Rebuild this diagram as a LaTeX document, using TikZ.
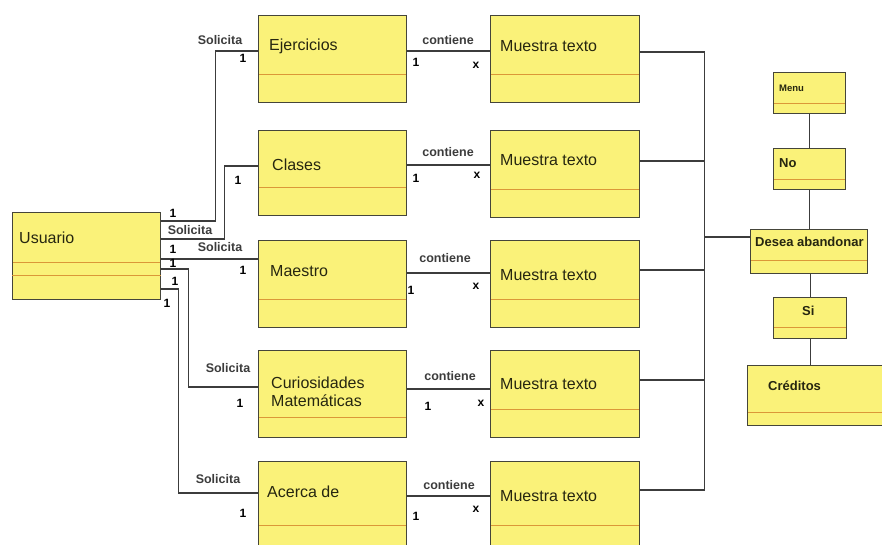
\documentclass[tikz,border=0pt]{standalone}
\usepackage{fontspec}
\setmainfont{Liberation Sans}
\usepackage{tikz}
\definecolor{amarillo}{HTML}{FAF279}
\definecolor{borde}{HTML}{45453A}
\definecolor{naranja}{HTML}{DB9838}
\definecolor{linea}{HTML}{3C3C3C}
\definecolor{texto}{HTML}{262610}
\tikzset{
  clase/.style={draw=borde, fill=amarillo, line width=1.3pt, anchor=north west,
    inner sep=0pt, minimum width=148pt, minimum height=87pt},
  comp/.style={path picture={\draw[naranja, line width=1pt]
    ([yshift=#1pt]path picture bounding box.south west) --
    ([yshift=#1pt]path picture bounding box.south east);}},
  conector/.style={draw=linea, line width=1.1pt},
  nombre/.style={text=texto, font=\fontsize{16}{18}\selectfont, inner sep=0pt, align=left},
  nombreb/.style={text=texto, font=\bfseries\fontsize{13}{15}\selectfont, inner sep=0pt},
  nom/.style n args={3}{label={[nombre, anchor=west, xshift=#1pt, yshift=-#2pt]north west:#3}},
  nomb/.style n args={3}{label={[nombreb, anchor=west, xshift=#1pt, yshift=-#2pt]north west:#3}},
  rol/.style={text=linea, font=\bfseries\fontsize{12.5}{14}\selectfont, inner sep=0pt},
  mult/.style={text=black, font=\bfseries\fontsize{12}{14}\selectfont, inner sep=0pt}
}

\begin{document}
\begin{tikzpicture}[x=1pt, y=-1pt]
  \fill[white] (0,0) rectangle (882,544);
  \useasboundingbox (0,0) rectangle (882,544);

  % usuario y sus opciones
  \node[clase, comp=37, nom={7}{26}{Usuario}] (usuario) at (12,212) {};
  \draw[naranja, line width=1pt] ([yshift=25pt]usuario.south west) -- ([yshift=25pt]usuario.south east);
  \node[clase, comp=28, nom={11}{31}{Ejercicios}] (ejercicios) at (258,15) {};
  \node[clase, minimum height=85pt, comp=28, nom={14}{35}{Clases}] (clases) at (258,130) {};
  \node[clase, comp=28, nom={12}{31}{Maestro}] (maestro) at (258,240) {};
  \node[clase, comp=20, nom={13}{42}{Curiosidades\\Matemáticas}] (curiosidades) at (258,350) {};
  \node[clase, comp=23, nom={9}{31}{Acerca de}] (acerca) at (258,461) {};

  \foreach \i/\t/\d/\c in {1/15/31/28, 2/130/30/28, 3/240/35/28, 4/350/34/28, 5/461/35/23}
    \node[clase, minimum width=149pt, comp=\c, nom={10}{\d}{Muestra texto}] (m\i) at (490,\t) {};

  % salida
  \node[clase, minimum width=72pt, minimum height=41pt, comp=10,
    label={[nombreb, font=\bfseries\fontsize{9.5}{11}\selectfont, anchor=west, xshift=6pt, yshift=-16pt]north west:Menu}] (menu) at (773,72) {};
  \node[clase, minimum width=72pt, minimum height=41pt, comp=10, nomb={6}{15}{No}] (no) at (773,148) {};
  \node[clase, minimum width=117pt, minimum height=44pt, comp=13, nomb={5}{13}{Desea abandonar}] (desea) at (750,229) {};
  \node[clase, minimum width=73pt, minimum height=41pt, comp=11, nomb={29}{14}{Si}] (si) at (773,297) {};
  \node[clase, minimum width=150pt, minimum height=60pt, comp=13, nomb={21}{21}{Créditos}] (creditos) at (747,365) {};

  % Solicita
  \draw[conector] ([yshift=-9pt]usuario.north east) -| ++(54,-170) -- ([yshift=-36pt]ejercicios.north west);
  \draw[conector] ([yshift=-27pt]usuario.north east) -| ++(63,-73) -- ([yshift=-36pt]clases.north west);
  \draw[conector] ([yshift=-47pt]usuario.north east) -- ([yshift=-19pt]maestro.north west);
  \draw[conector] ([yshift=-57pt]usuario.north east) -| ++(27,118) -- ([yshift=-37pt]curiosidades.north west);
  \draw[conector] ([yshift=-77pt]usuario.north east) -| ++(17,204) -- ([yshift=-32pt]acerca.north west);

  % contiene
  \draw[conector] ([yshift=-36pt]ejercicios.north east) -- ([yshift=-36pt]m1.north west);
  \draw[conector] ([yshift=-35pt]clases.north east) -- ([yshift=-35pt]m2.north west);
  \draw[conector] ([yshift=-33pt]maestro.north east) -- ([yshift=-33pt]m3.north west);
  \draw[conector] ([yshift=-39pt]curiosidades.north east) -- ([yshift=-39pt]m4.north west);
  \draw[conector] ([yshift=-35pt]acerca.north east) -- ([yshift=-35pt]m5.north west);

  % bus hacia desea abandonar
  \draw[conector] ([yshift=-37pt]m1.north east) -- ++(64,0) coordinate (bus) |- ([yshift=-29pt]m5.north east);
  \draw[conector] ([yshift=-31pt]m2.north east) -| (bus);
  \draw[conector] ([yshift=-30pt]m3.north east) -| (bus);
  \draw[conector] ([yshift=-30pt]m4.north east) -| (bus);
  \draw[conector] ([yshift=-8pt]desea.north west) -| (bus);

  \draw[conector] (menu.south) -- (menu.south |- no.north);
  \draw[conector] (no.south) -- (no.south |- desea.north);
  \draw[conector] (si.north |- desea.south) -- (si.north);
  \draw[conector] (si.south) -- (si.south |- creditos.north);

  % etiquetas
  \foreach \x/\y [count=\i] in {220/40, 190/230, 220/247, 228/368, 218/479}
    \node[rol] (sol\i) at (\x,\y) {Solicita};
  \foreach \x/\y [count=\i] in {448/40, 448/152, 445/258, 450/376, 449/485}
    \node[rol] (cont\i) at (\x,\y) {contiene};
  \foreach \x/\y [count=\i] in {173/213, 173/249, 173/263, 175/281, 167/303}
    \node[mult] (mu\i) at (\x,\y) {1};
  \foreach \x/\y [count=\i] in {243/58, 238/180, 243/270, 240/403, 243/513}
    \node[mult] (mo\i) at (\x,\y) {1};
  \foreach \x/\y [count=\i] in {416/62, 416/178, 411/290, 428/406, 416/516}
    \node[mult] (mc\i) at (\x,\y) {1};
  \foreach \x/\y [count=\i] in {476/65, 477/175, 476/286, 481/403, 476/509}
    \node[mult] (mx\i) at (\x,\y) {x};
\end{tikzpicture}
\end{document}
